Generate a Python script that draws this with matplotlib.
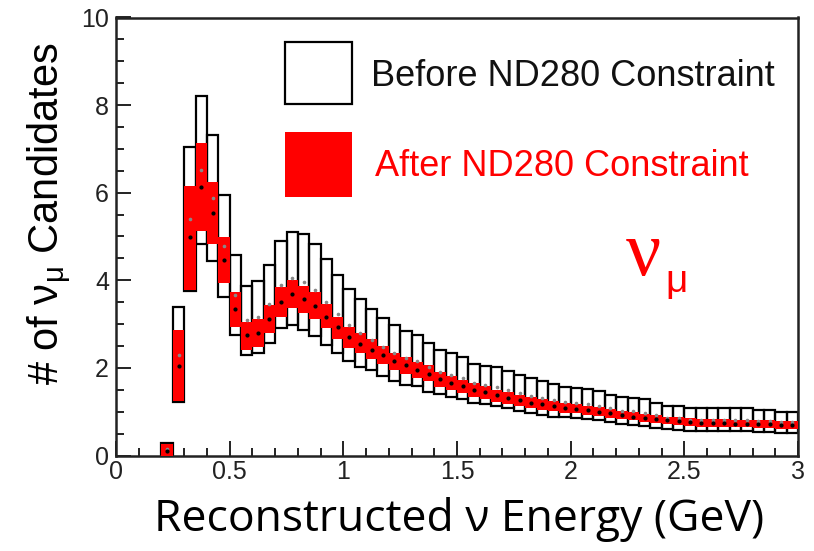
import matplotlib
matplotlib.use("Agg")
import matplotlib.pyplot as plt
import numpy as np
from matplotlib.patches import Rectangle
from matplotlib.ticker import MultipleLocator

# bin lower edges (GeV), width 0.05
bin_lo = [0.20, 0.25, 0.30, 0.35, 0.40, 0.45, 0.50, 0.55, 0.60, 0.65,
          0.70, 0.75, 0.80, 0.85, 0.90, 0.95, 1.00, 1.05, 1.10, 1.15,
          1.20, 1.25, 1.30, 1.35, 1.40, 1.45, 1.50, 1.55, 1.60, 1.65,
          1.70, 1.75, 1.80, 1.85, 1.90, 1.95, 2.00, 2.05, 2.10, 2.15,
          2.20, 2.25, 2.30, 2.35, 2.40, 2.45, 2.50, 2.55, 2.60, 2.65,
          2.70, 2.75, 2.80, 2.85, 2.90, 2.95]
bin_width = 0.05

# before ND280 constraint: error band upper / lower
before_hi = [0.28, 3.38, 7.05, 8.21, 7.32, 5.95, 4.58, 3.88, 3.98, 4.35,
             4.90, 5.11, 5.05, 4.82, 4.48, 4.12, 3.80, 3.57, 3.34, 3.15,
             2.98, 2.84, 2.74, 2.56, 2.42, 2.33, 2.25, 2.10, 2.05, 2.02,
             1.92, 1.83, 1.76, 1.71, 1.63, 1.56, 1.53, 1.51, 1.47, 1.39,
             1.33, 1.32, 1.28, 1.20, 1.13, 1.13, 1.08, 1.08, 1.08, 1.08,
             1.08, 1.08, 1.05, 1.05, 1.00, 1.00]
before_lo = [0.00, 1.23, 3.75, 4.84, 4.43, 3.61, 2.75, 2.29, 2.33, 2.56,
             2.90, 2.98, 2.87, 2.73, 2.52, 2.34, 2.15, 2.03, 1.95, 1.82,
             1.71, 1.62, 1.58, 1.46, 1.41, 1.34, 1.29, 1.21, 1.17, 1.12,
             1.08, 1.02, 0.96, 0.92, 0.89, 0.88, 0.86, 0.84, 0.81, 0.76,
             0.72, 0.70, 0.67, 0.63, 0.60, 0.59, 0.55, 0.55, 0.55, 0.55,
             0.55, 0.55, 0.54, 0.54, 0.51, 0.51]

# after ND280 constraint: error band upper / lower and central value
after_hi = [0.26, 2.87, 6.15, 7.13, 6.25, 5.00, 3.74, 3.05, 3.11, 3.44,
            3.85, 4.00, 3.88, 3.73, 3.46, 3.17, 2.94, 2.79, 2.65, 2.50,
            2.35, 2.25, 2.14, 2.06, 1.91, 1.81, 1.73, 1.65, 1.58, 1.50,
            1.45, 1.38, 1.33, 1.29, 1.24, 1.20, 1.17, 1.14, 1.10, 1.06,
            1.02, 0.99, 0.95, 0.92, 0.89, 0.87, 0.85, 0.84, 0.83, 0.83,
            0.82, 0.82, 0.81, 0.80, 0.79, 0.78]
after_lo = [0.00, 1.25, 3.78, 5.13, 4.83, 3.93, 2.93, 2.42, 2.47, 2.79,
            3.17, 3.36, 3.25, 3.11, 2.90, 2.66, 2.45, 2.33, 2.20, 2.08,
            1.95, 1.87, 1.77, 1.69, 1.57, 1.50, 1.42, 1.34, 1.30, 1.23,
            1.18, 1.13, 1.09, 1.05, 1.01, 0.98, 0.96, 0.93, 0.90, 0.86,
            0.83, 0.80, 0.77, 0.74, 0.71, 0.69, 0.67, 0.66, 0.65, 0.65,
            0.64, 0.64, 0.63, 0.62, 0.61, 0.60]
after_mid = [0.10, 2.05, 4.98, 6.12, 5.54, 4.46, 3.34, 2.75, 2.80, 3.11,
             3.51, 3.68, 3.57, 3.41, 3.17, 2.93, 2.70, 2.55, 2.42, 2.29,
             2.15, 2.06, 1.96, 1.87, 1.74, 1.65, 1.58, 1.50, 1.44, 1.37,
             1.32, 1.26, 1.21, 1.17, 1.12, 1.09, 1.06, 1.03, 1.00, 0.96,
             0.92, 0.89, 0.86, 0.83, 0.80, 0.78, 0.76, 0.75, 0.74, 0.74,
             0.73, 0.73, 0.72, 0.71, 0.70, 0.69]

x_ticks = [0, 0.5, 1, 1.5, 2, 2.5, 3]
x_tick_labels = ["0", "0.5", "1", "1.5", "2", "2.5", "3"]
y_ticks = [0, 2, 4, 6, 8, 10]

RED = "#ff0000"


def main():
    lo = np.array(bin_lo)
    b_hi = np.array(before_hi)
    b_lo = np.array(before_lo)
    a_hi = np.array(after_hi)
    a_lo = np.array(after_lo)
    centers = lo + bin_width / 2

    fig = plt.figure(figsize=(8.14, 5.51), dpi=100)
    ax = fig.add_axes([116 / 814, 95.5 / 551, 682 / 814, 438 / 551])

    ax.bar(lo, b_hi - b_lo, width=bin_width, bottom=b_lo, align="edge",
           fill=False, edgecolor="black", linewidth=1.6, zorder=2)
    ax.bar(lo, a_hi - a_lo, width=bin_width, bottom=a_lo, align="edge",
           color=RED, linewidth=0, zorder=3)
    ax.plot(centers, (b_hi + b_lo) / 2, linestyle="none", marker="o",
            markersize=1.6, color="#888888", zorder=4)
    ax.plot(centers, after_mid, linestyle="none", marker="o",
            markersize=2.0, color="black", zorder=4)

    ax.set_xlim(0, 3)
    ax.set_ylim(0, 10)
    ax.set_xticks(x_ticks)
    ax.set_xticklabels(x_tick_labels)
    ax.set_yticks(y_ticks)
    ax.xaxis.set_minor_locator(MultipleLocator(0.1))
    ax.yaxis.set_minor_locator(MultipleLocator(0.5))
    ax.tick_params(which="both", direction="in", top=False, right=False,
                   width=1.4, labelsize=18, colors="#222222")
    ax.tick_params(which="major", length=11)
    ax.tick_params(which="minor", length=6)
    ax.tick_params(axis="x", pad=3)
    ax.tick_params(axis="y", pad=5)
    for label in ax.get_xticklabels() + ax.get_yticklabels():
        label.set_fontfamily("Liberation Sans")
    for spine in ax.spines.values():
        spine.set_linewidth(1.8)
        spine.set_color("#222222")

    # legend drawn by hand
    ax.add_patch(Rectangle((0.248, 0.8025), 0.098, 0.1415, transform=ax.transAxes,
                           fill=False, edgecolor="black", linewidth=1.6, zorder=5))
    ax.add_patch(Rectangle((0.248, 0.590), 0.098, 0.1486, transform=ax.transAxes,
                           facecolor=RED, edgecolor="none", zorder=5))
    ax.text(0.374, 0.866, "Before ND280 Constraint", transform=ax.transAxes,
            fontsize=26, family="Liberation Sans", color="#111111", va="center")
    ax.text(0.380, 0.659, "After ND280 Constraint", transform=ax.transAxes,
            fontsize=26, family="Liberation Sans", color=RED, va="center")

    ax.text(0.748, 0.455, "\u03bd", transform=ax.transAxes, fontsize=56,
            family="Liberation Serif", color=RED, va="center")
    ax.text(0.806, 0.395, "\u03bc", transform=ax.transAxes, fontsize=28,
            family="Liberation Sans", color=RED, va="center")

    fig.text(459 / 814, 1 - 520 / 551, "Reconstructed \u03bd Energy (GeV)",
             fontsize=32, family="Open Sans", ha="center", va="center")
    fig.text(50 / 814, 1 - 214 / 551, "# of \u03bd$_{\\mathregular{\u03bc}}$ Candidates",
             fontsize=30, family="Liberation Sans", rotation=90,
             ha="center", va="center")

    fig.savefig("out.png", dpi=100, facecolor="white")
    plt.close(fig)


if __name__ == "__main__":
    main()
